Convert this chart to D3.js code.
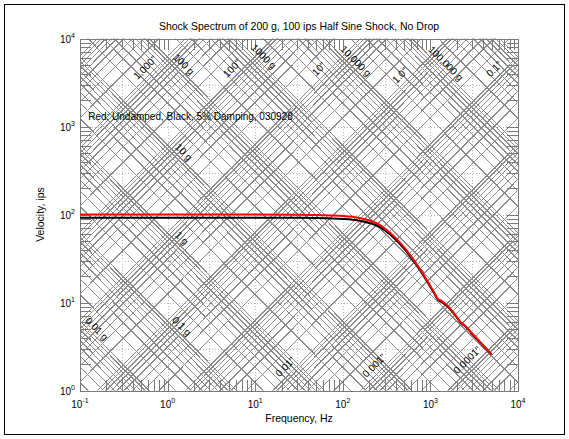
<!DOCTYPE html>
<html>
<head>
<meta charset="utf-8">
<script src="https://cdn.jsdelivr.net/npm/d3@7"></script>
<style>
  body { margin: 0; background: #fff; }
  svg { display: block; }
  text { font-family: "Liberation Sans", Arial, Helvetica, sans-serif; fill: #000; }
</style>
</head>
<body>
<svg id="chart" width="569" height="439"></svg>
<script>
// Shock response spectrum, tripartite paper (velocity vs frequency)
const freqHz      = [0.1, 0.3, 1, 3, 10, 30, 50, 75, 100, 150, 200, 250, 300, 400, 500, 600, 750, 1000, 1100, 1230, 1300, 1400, 1480, 1600, 1720, 1970, 2200, 2460, 2960, 3500, 3940, 4500, 5000];
const velUndamped = [100, 100, 100, 100, 100, 99.6, 98.9, 97.6, 96.2, 91.8, 85.3, 78.5, 69.7, 54.3, 42.5, 33.6, 24.4, 15.4, 13.1, 10.8, 10.6, 10.1, 9.7, 9.0, 8.3, 7.0, 6.0, 5.5, 4.5, 3.77, 3.31, 2.88, 2.57];
const velDamped5  = [92, 92, 92, 92, 92, 91.8, 91.3, 90.3, 89, 85.5, 80.2, 74, 66.2, 52.1, 41, 32.5, 23.7, 15.0, 12.8, 10.6, 10.3, 9.85, 9.45, 8.8, 8.15, 6.9, 5.95, 5.45, 4.45, 3.74, 3.29, 2.87, 2.56];

const xTickExp = [-1, 0, 1, 2, 3, 4];
const yTickExp = [0, 1, 2, 3, 4];
const gridMultipliers = [1, 3];

// Constant-displacement lines (inches) and their labels
const dispLabelText = ['1,000"', '100"', '10"', '1.0"', '0.1"', '0.01"', '0.001"', '0.0001"'];
const dispLabelIn   = [1000, 100, 10, 1, 0.1, 0.01, 0.001, 0.0001];
const dispLabelFreq = [0.643, 6.3, 62, 524, 6190, 25.5, 264, 3050];

// Constant-acceleration lines (g) and their labels
const accLabelText = ['100 g', '1000 g', '10,000 g', '100,000 g', '10 g', '1 g', '0.1 g', '0.01 g'];
const accLabelG    = [100, 1000, 10000, 100000, 10, 1, 0.1, 0.01];
const accLabelFreq = [1.36, 11.1, 125, 1330, 1.36, 1.29, 1.29, 0.138];

const G_IPS2 = 386.1;   // 1 g in in/s^2
const TWO_PI = 2 * Math.PI;

const svg = d3.select('#chart');
const W = 569, H = 439;
const m = { left: 80, right: 51, top: 38.5, bottom: 48.5 };
const x = d3.scaleLog().domain([0.1, 1e4]).range([m.left, W - m.right]);
const y = d3.scaleLog().domain([1, 1e4]).range([H - m.bottom, m.top]);
const [x0, x1] = x.range();
const [y1, y0] = y.range();

// outer frame
svg.append('rect').attr('x', 4.5).attr('y', 4.5).attr('width', W - 9).attr('height', H - 9)
  .attr('fill', '#fff').attr('stroke', '#000').attr('stroke-width', 1);

svg.append('clipPath').attr('id', 'plotClip')
  .append('rect').attr('x', x0).attr('y', y0).attr('width', x1 - x0).attr('height', y1 - y0);

const plot = svg.append('g').attr('clip-path', 'url(#plotClip)');

// dotted grid
const gridF = [], gridV = [];
for (let e = -1; e <= 4; e++) gridMultipliers.forEach(k => { const v = k * 10 ** e; if (v <= 1e4) gridF.push(v); });
for (let e = 0; e <= 4; e++) gridMultipliers.forEach(k => { const v = k * 10 ** e; if (v <= 1e4) gridV.push(v); });
plot.append('g').selectAll('line').data(gridF).join('line')
  .attr('x1', d => Math.round(x(d)) + 0.5).attr('x2', d => Math.round(x(d)) + 0.5)
  .attr('y1', y0).attr('y2', y1)
  .attr('stroke', '#b4b4b4').attr('stroke-dasharray', '1,2').attr('shape-rendering', 'crispEdges');
plot.append('g').selectAll('line').data(gridV).join('line')
  .attr('y1', d => Math.round(y(d)) + 0.5).attr('y2', d => Math.round(y(d)) + 0.5)
  .attr('x1', x0).attr('x2', x1)
  .attr('stroke', '#b4b4b4').attr('stroke-dasharray', '1,2').attr('shape-rendering', 'crispEdges');

// diagonal families
const fLo = 0.1, fHi = 1e4;
const dispSet = [], accSet = [];
for (let e = -6; e <= 5; e++) for (let k = 1; k <= 9; k++) dispSet.push(k * 10 ** e);
for (let e = -4; e <= 7; e++) for (let k = 1; k <= 9; k++) accSet.push(k * 10 ** e);
const velFromDisp = (f, D) => TWO_PI * f * D;
const velFromAcc = (f, A) => A * G_IPS2 / (TWO_PI * f);

plot.append('g').selectAll('line').data(dispSet).join('line')
  .attr('x1', x(fLo)).attr('y1', D => y(velFromDisp(fLo, D)))
  .attr('x2', x(fHi)).attr('y2', D => y(velFromDisp(fHi, D)))
  .attr('stroke', '#8c8c8c').attr('stroke-width', 1).attr('shape-rendering', 'crispEdges');
plot.append('g').selectAll('line').data(accSet).join('line')
  .attr('x1', x(fLo)).attr('y1', A => y(velFromAcc(fLo, A)))
  .attr('x2', x(fHi)).attr('y2', A => y(velFromAcc(fHi, A)))
  .attr('stroke', '#8c8c8c').attr('stroke-width', 1).attr('shape-rendering', 'crispEdges');

// edge ticks (every 1..9 within each decade)
const tickLen = 11;
const tickF = [], tickV = [];
for (let e = -1; e < 4; e++) for (let k = 1; k <= 9; k++) tickF.push(k * 10 ** e);
for (let e = 0; e < 4; e++) for (let k = 1; k <= 9; k++) tickV.push(k * 10 ** e);
const ticks = svg.append('g').attr('stroke', '#7a7a7a').attr('shape-rendering', 'crispEdges');
tickF.forEach(f => {
  const px = Math.round(x(f)) + 0.5;
  ticks.append('line').attr('x1', px).attr('x2', px).attr('y1', y1).attr('y2', y1 - tickLen);
  ticks.append('line').attr('x1', px).attr('x2', px).attr('y1', y0).attr('y2', y0 + tickLen);
});
tickV.forEach(v => {
  const py = Math.round(y(v)) + 0.5;
  ticks.append('line').attr('y1', py).attr('y2', py).attr('x1', x0).attr('x2', x0 + tickLen);
  ticks.append('line').attr('y1', py).attr('y2', py).attr('x1', x1).attr('x2', x1 - tickLen);
});

// axes box
svg.append('rect').attr('x', x0 + 0.5).attr('y', y0 + 0.5)
  .attr('width', x1 - x0).attr('height', y1 - y0)
  .attr('fill', 'none').attr('stroke', '#7a7a7a').attr('shape-rendering', 'crispEdges');

// diagonal labels
const labels = svg.append('g').attr('font-size', 10);
dispLabelText.forEach((t, i) => {
  const f = dispLabelFreq[i];
  const px = x(f), py = y(velFromDisp(f, dispLabelIn[i]));
  labels.append('text').attr('transform', `translate(${px},${py}) rotate(-45)`)
    .attr('text-anchor', 'middle').attr('dy', '-0.45em').text(t);
});
accLabelText.forEach((t, i) => {
  const f = accLabelFreq[i];
  const px = x(f), py = y(velFromAcc(f, accLabelG[i]));
  labels.append('text').attr('transform', `translate(${px},${py}) rotate(45)`)
    .attr('text-anchor', 'middle').attr('dy', '-0.3em').text(t);
});

// response curves
const line = d3.line().x(d => x(d[0])).y(d => y(d[1])).curve(d3.curveMonotoneX);
const plotCurves = svg.append('g');
plotCurves.append('path').datum(freqHz.map((f, i) => [f, velDamped5[i]]))
  .attr('d', line).attr('fill', 'none').attr('stroke', '#000').attr('stroke-width', 2);
plotCurves.append('path').datum(freqHz.map((f, i) => [f, velUndamped[i]]))
  .attr('d', line).attr('fill', 'none').attr('stroke', '#ff0000').attr('stroke-width', 2);

// note
svg.append('text').attr('x', x(0.124)).attr('y', y(1000) - 9).attr('font-size', 10)
  .attr('dominant-baseline', 'middle')
  .text('Red: Undamped, Black, 5% Damping, 030928');

// tick labels
const xl = svg.append('g').attr('font-size', 10);
xTickExp.forEach(e => {
  const t = xl.append('text').attr('x', x(10 ** e)).attr('y', y1 + 17).attr('text-anchor', 'middle');
  t.append('tspan').text('10');
  t.append('tspan').attr('dy', -5).attr('font-size', 7).text(e);
});
const yl = svg.append('g').attr('font-size', 10);
yTickExp.forEach(e => {
  const t = yl.append('text').attr('x', x0 - 5).attr('y', y(10 ** e) + 4).attr('text-anchor', 'end');
  t.append('tspan').text('10');
  t.append('tspan').attr('dy', -5).attr('font-size', 7).text(e);
});

// titles
svg.append('text').attr('x', (x0 + x1) / 2).attr('y', y0 - 9).attr('text-anchor', 'middle')
  .attr('font-size', 10.5).text('Shock Spectrum of 200 g, 100 ips Half Sine Shock, No Drop');
svg.append('text').attr('x', (x0 + x1) / 2).attr('y', y1 + 31).attr('text-anchor', 'middle')
  .attr('font-size', 10.5).text('Frequency, Hz');
svg.append('text').attr('transform', `translate(${x0 - 36},${(y0 + y1) / 2}) rotate(-90)`)
  .attr('text-anchor', 'middle').attr('font-size', 10.5).text('Velocity, ips');
</script>
</body>
</html>
